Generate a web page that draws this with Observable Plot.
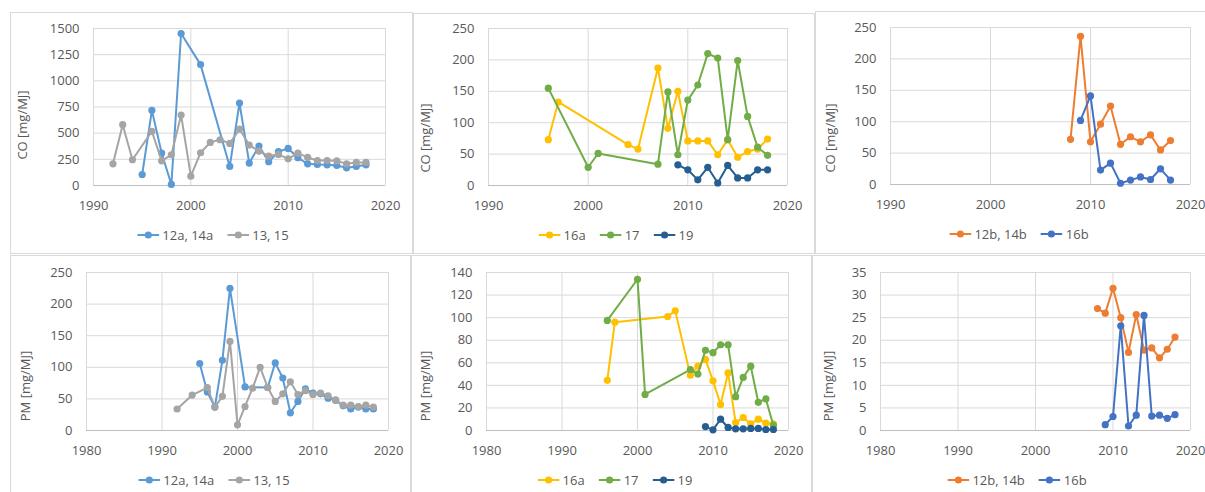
<!DOCTYPE html>
<html>
<head>
<meta charset="utf-8">
<script src="https://cdn.jsdelivr.net/npm/d3@7"></script>
<script src="https://cdn.jsdelivr.net/npm/@observablehq/plot@0.6"></script>
<style>
  body { margin: 0; background: #fff; }
  #page { position: relative; width: 1205px; height: 492px; overflow: hidden; background: #fff; font-family: "Open Sans", sans-serif; color: #595959; }
  .frame { position: absolute; border: 1px solid #d9d9d9; box-sizing: border-box; }
  .chart { position: absolute; }
  .ylab { position: absolute; white-space: nowrap; font-size: 13px; transform: translate(-50%, -50%) rotate(-90deg); }
  .legend { position: absolute; transform: translate(-50%, -50%); display: flex; align-items: center; font-size: 13px; white-space: nowrap; }
  .legend .item { display: flex; align-items: center; margin: 0 7px; }
  .legend svg { margin-right: 3px; }
</style>
</head>
<body>
<div id="page"></div>
<script>
// ---------- Data ----------
// Top-left: CO
const co_12a14a_years = [1995,1996,1997,1998,1999,2001,2004,2005,2006,2007,2008,2009,2010,2011,2012,2013,2014,2015,2016,2017,2018];
const co_12a14a = [105,718,310,10,1452,1155,182,788,214,377,227,325,354,265,207,201,198,191,169,182,198];
const co_1315_years = [1992,1993,1994,1996,1997,1998,1999,2000,2001,2002,2003,2004,2005,2006,2007,2008,2009,2010,2011,2012,2013,2014,2015,2016,2017,2018];
const co_1315 = [207,581,246,517,236,294,673,89,313,412,437,402,539,386,329,281,297,255,310,268,239,239,236,207,220,220];
// Top-middle: CO
const co_16a_years = [1996,1997,2004,2005,2007,2008,2009,2010,2011,2012,2013,2014,2015,2016,2017,2018];
const co_16a = [73,133,65,58,187,91,150,71,71,71,49,73,45,54,58,74];
const co_17_years = [1996,2000,2001,2007,2008,2009,2010,2011,2012,2013,2014,2015,2016,2017,2018];
const co_17 = [155,29,51,34,149,49,136,160,210,203,73,199,110,61,48];
const co_19_years = [2009,2010,2011,2012,2013,2014,2015,2016,2017,2018];
const co_19 = [33,25,9,29,4,32,12,12,25,25];
// Top-right: CO
const co_12b14b_years = [2008,2009,2010,2011,2012,2013,2014,2015,2016,2017,2018];
const co_12b14b = [72,236,68,96,125,64,76,68,79,55,70];
const co_16b_years = [2009,2010,2011,2012,2013,2014,2015,2016,2017,2018];
const co_16b = [102,141,23,34,2,7,12,8,25,7];
// Bottom-left: PM
const pm_12a14a_years = [1995,1996,1997,1998,1999,2001,2004,2005,2006,2007,2008,2009,2010,2011,2012,2013,2014,2015,2016,2017,2018];
const pm_12a14a = [106,61,37,111,225,69,68,107,83,28,46,66,59,58,51,48,39,34,37,34,34];
const pm_1315_years = [1992,1994,1996,1997,1998,1999,2000,2001,2002,2003,2004,2005,2006,2007,2008,2009,2010,2011,2012,2013,2014,2015,2016,2017,2018];
const pm_1315 = [34,56,68,37,54,141,9,38,67,100,68,46,58,77,57,63,57,59,55,48,40,40,38,40,37];
// Bottom-middle: PM
const pm_16a_years = [1996,1997,2004,2005,2007,2008,2009,2010,2011,2012,2013,2014,2015,2016,2017,2018];
const pm_16a = [44.5,96,101,106,49,57,63,44,23,51,7,11.5,6,10,6.5,6];
const pm_17_years = [1996,2000,2001,2007,2008,2009,2010,2011,2012,2013,2014,2015,2016,2017,2018];
const pm_17 = [97.5,134,32,54,50,71,69,76,76,30,47,57,25,28,4.5];
const pm_19_years = [2009,2010,2011,2012,2013,2014,2015,2016,2017,2018];
const pm_19 = [3.5,0.6,10,2.7,1.5,1.5,1.8,1.8,0.9,0.9];
// Bottom-right: PM
const pm_12b14b_years = [2008,2009,2010,2011,2012,2013,2014,2015,2016,2017,2018];
const pm_12b14b = [27,26,31.5,25,17.3,25.7,17.8,18.3,16.1,18,20.7];
const pm_16b_years = [2009,2010,2011,2012,2013,2014,2015,2016,2017,2018];
const pm_16b = [1.3,3.1,23.2,1.0,3.4,25.5,3.2,3.4,2.7,3.5];

// Tick labels
const xTicksTop = [1990, 2000, 2010, 2020];
const xTicksBottom = [1980, 1990, 2000, 2010, 2020];
const yTicks_co1 = [0, 250, 500, 750, 1000, 1250, 1500];
const yTicks_co2 = [0, 50, 100, 150, 200, 250];
const yTicks_pm1 = [0, 50, 100, 150, 200, 250];
const yTicks_pm2 = [0, 20, 40, 60, 80, 100, 120, 140];
const yTicks_pm3 = [0, 5, 10, 15, 20, 25, 30, 35];

const yLabelCO = "CO [mg/MJ]";
const yLabelPM = "PM [mg/MJ]";

const C = {
  "12a, 14a": "#5B9BD5",
  "13, 15": "#A5A5A5",
  "16a": "#FFC000",
  "17": "#70AD47",
  "19": "#255E91",
  "12b, 14b": "#ED7D31",
  "16b": "#4472C4"
};

function toRows(name, years, vals) {
  return years.map((y, i) => ({series: name, year: y, value: vals[i]}));
}

const page = document.getElementById("page");

// Frames
const frames = [
  [10, 12, 403, 242], [413, 13, 402, 241], [815, 11, 410, 243],
  [10, 255, 401, 260], [411, 255, 401, 260], [812, 255, 410, 260]
];
for (const [l, t, w, h] of frames) {
  const d = document.createElement("div");
  d.className = "frame";
  Object.assign(d.style, {left: l + "px", top: t + "px", width: w + "px", height: h + "px"});
  page.appendChild(d);
}

function panel(cfg) {
  const {L, T, W, H, x0, x1, yTop, yBot, xDomain, xTicks, yDomain, yTicks, series, ylabel, ylx, yly, legX, legY} = cfg;
  const marks = [
    Plot.gridX(xTicks, {stroke: "#d9d9d9", strokeOpacity: 1}),
    Plot.gridY(yTicks, {stroke: "#d9d9d9", strokeOpacity: 1}),
    Plot.ruleY([0], {stroke: "#bfbfbf"}),
    Plot.axisX(xTicks, {tickSize: 0, tickPadding: 15, tickFormat: d => String(d), label: null, fontSize: 13}),
    Plot.axisY(yTicks, {tickSize: 0, tickPadding: 14, tickFormat: d => String(d), label: null, fontSize: 13})
  ];
  for (const s of series) {
    const rows = toRows(s.name, s.years, s.vals);
    marks.push(Plot.line(rows, {x: "year", y: "value", stroke: C[s.name], strokeWidth: 2}));
    marks.push(Plot.dot(rows, {x: "year", y: "value", fill: C[s.name], r: 3.6, stroke: "none"}));
  }
  const chart = Plot.plot({
    width: W, height: H,
    marginLeft: x0 - L, marginRight: L + W - x1,
    marginTop: yTop - T, marginBottom: T + H - yBot,
    x: {domain: xDomain},
    y: {domain: yDomain},
    style: {fontFamily: "Open Sans, sans-serif", fontSize: "13px", color: "#595959", background: "transparent", overflow: "visible"},
    marks
  });
  chart.classList.add("chart");
  chart.style.left = L + "px";
  chart.style.top = T + "px";
  chart.style.maxWidth = "none";
  page.appendChild(chart);

  const yl = document.createElement("div");
  yl.className = "ylab";
  yl.textContent = ylabel;
  yl.style.left = ylx + "px";
  yl.style.top = yly + "px";
  page.appendChild(yl);

  const leg = document.createElement("div");
  leg.className = "legend";
  leg.style.left = legX + "px";
  leg.style.top = legY + "px";
  for (const s of series) {
    const it = document.createElement("div");
    it.className = "item";
    it.innerHTML = `<svg width="22" height="10"><line x1="0" x2="22" y1="5" y2="5" stroke="${C[s.name]}" stroke-width="2"/><circle cx="11" cy="5" r="3.6" fill="${C[s.name]}"/></svg><span>${s.name}</span>`;
    leg.appendChild(it);
  }
  page.appendChild(leg);
}

panel({L: 10, T: 12, W: 403, H: 206, x0: 93, x1: 385, yTop: 28, yBot: 185,
  xDomain: [1990, 2020], xTicks: xTicksTop, yDomain: [0, 1500], yTicks: yTicks_co1,
  series: [
    {name: "12a, 14a", years: co_12a14a_years, vals: co_12a14a},
    {name: "13, 15", years: co_1315_years, vals: co_1315}
  ], ylabel: yLabelCO, ylx: 22, yly: 125, legX: 213, legY: 235});

panel({L: 413, T: 13, W: 402, H: 205, x0: 488, x1: 787, yTop: 28, yBot: 185,
  xDomain: [1990, 2020], xTicks: xTicksTop, yDomain: [0, 250], yTicks: yTicks_co2,
  series: [
    {name: "16a", years: co_16a_years, vals: co_16a},
    {name: "17", years: co_17_years, vals: co_17},
    {name: "19", years: co_19_years, vals: co_19}
  ], ylabel: yLabelCO, ylx: 425, yly: 138, legX: 616, legY: 235});

panel({L: 815, T: 11, W: 390, H: 207, x0: 890, x1: 1190, yTop: 27, yBot: 184,
  xDomain: [1990, 2020], xTicks: xTicksTop, yDomain: [0, 250], yTicks: yTicks_co2,
  series: [
    {name: "12b, 14b", years: co_12b14b_years, vals: co_12b14b},
    {name: "16b", years: co_16b_years, vals: co_16b}
  ], ylabel: yLabelCO, ylx: 830, yly: 138, legX: 1019, legY: 234});

panel({L: 10, T: 255, W: 401, H: 210, x0: 86, x1: 388, yTop: 272, yBot: 430,
  xDomain: [1980, 2020], xTicks: xTicksBottom, yDomain: [0, 250], yTicks: yTicks_pm1,
  series: [
    {name: "12a, 14a", years: pm_12a14a_years, vals: pm_12a14a},
    {name: "13, 15", years: pm_1315_years, vals: pm_1315}
  ], ylabel: yLabelPM, ylx: 25, yly: 386, legX: 214, legY: 480});

panel({L: 411, T: 255, W: 401, H: 210, x0: 486, x1: 788, yTop: 272, yBot: 430,
  xDomain: [1980, 2020], xTicks: xTicksBottom, yDomain: [0, 140], yTicks: yTicks_pm2,
  series: [
    {name: "16a", years: pm_16a_years, vals: pm_16a},
    {name: "17", years: pm_17_years, vals: pm_17},
    {name: "19", years: pm_19_years, vals: pm_19}
  ], ylabel: yLabelPM, ylx: 425, yly: 386, legX: 615, legY: 480});

panel({L: 812, T: 255, W: 393, H: 210, x0: 880, x1: 1190, yTop: 272, yBot: 430,
  xDomain: [1980, 2020], xTicks: xTicksBottom, yDomain: [0, 35], yTicks: yTicks_pm3,
  series: [
    {name: "12b, 14b", years: pm_12b14b_years, vals: pm_12b14b},
    {name: "16b", years: pm_16b_years, vals: pm_16b}
  ], ylabel: yLabelPM, ylx: 828, yly: 386, legX: 1017, legY: 480});
</script>
</body>
</html>
